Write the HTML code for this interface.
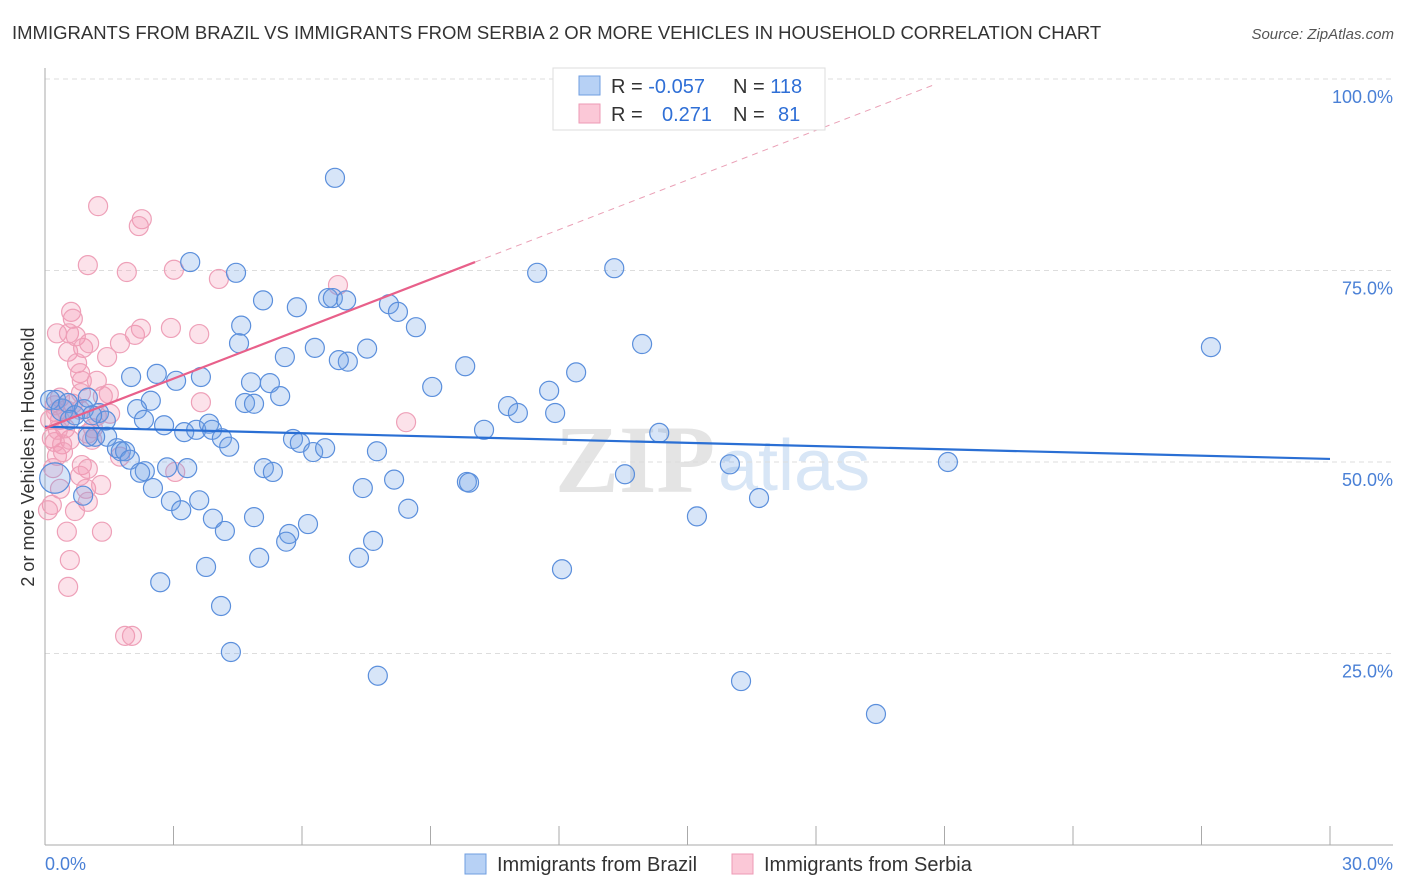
<!DOCTYPE html>
<html><head><meta charset="utf-8"><style>
body{margin:0;background:#fff;font-family:"Liberation Sans",sans-serif;}
svg{display:block}
</style></head><body>
<svg id="chart" width="1406" height="892" xmlns="http://www.w3.org/2000/svg">
<text x="12" y="39" font-size="18.5" fill="#333">IMMIGRANTS FROM BRAZIL VS IMMIGRANTS FROM SERBIA 2 OR MORE VEHICLES IN HOUSEHOLD CORRELATION CHART</text>
<text x="1394" y="39" font-size="15" fill="#555" font-style="italic" text-anchor="end">Source: ZipAtlas.com</text>
<text transform="translate(34,457) rotate(-90)" font-size="18" fill="#333" text-anchor="middle">2 or more Vehicles in Household</text>
<text x="555" y="492" font-size="96" font-family="Liberation Serif,serif" font-weight="bold" fill="#e4e4e4">ZIP</text>
<text x="718" y="490" font-size="72" fill="#d8e6f6">atlas</text>
<g id="grid"></g><g id="axes"></g><g id="pts"></g><g id="trend"></g>
<g>
<rect x="553" y="68" width="272" height="62" fill="#fff" stroke="#ddd"/>
<rect x="579" y="76" width="21" height="19" fill="#b7d1f5" stroke="#6f9ee0"/>
<rect x="579" y="104" width="21" height="19" fill="#fbc8d7" stroke="#ee9ab4"/>
<text x="611" y="93" font-size="20" fill="#333">R = <tspan fill="#2f6fd6">-0.057</tspan></text>
<text x="733" y="93" font-size="20" fill="#333">N = <tspan fill="#2f6fd6">118</tspan></text>
<text x="611" y="121" font-size="20" fill="#333">R = <tspan fill="#2f6fd6" x="662">0.271</tspan></text>
<text x="733" y="121" font-size="20" fill="#333">N = <tspan fill="#2f6fd6" x="778">81</tspan></text>
</g>
<g>
<rect x="465" y="854" width="21" height="20" fill="#b7d1f5" stroke="#6f9ee0"/>
<text x="497" y="871" font-size="20" fill="#333">Immigrants from Brazil</text>
<rect x="732" y="854" width="21" height="20" fill="#fbc8d7" stroke="#ee9ab4"/>
<text x="764" y="871" font-size="20" fill="#333">Immigrants from Serbia</text>
</g>
</svg>
<script>
const yTicks=[25,50,75,100];
const yTickLabels=["25.0%","50.0%","75.0%","100.0%"];
const xTicks=[0,3,6,9,12,15,18,21,24,27,30];
const xEndLabels=["0.0%","30.0%"];
const brazilX=[6.77,3.39,4.46,11.49,13.29,5.09,5.88,6.61,6.72,7.03,8.03,8.24,8.66,4.58,4.53,5.60,6.30,7.52,7.07,6.86,13.94,27.22,9.81,9.04,12.40,11.77,2.01,2.61,3.06,3.64,4.81,5.25,5.49,4.67,4.88,2.47,2.15,2.31,2.78,3.25,3.53,3.83,3.90,4.13,4.30,10.81,11.04,11.91,10.25,14.34,5.79,5.95,6.26,6.54,7.75,1.26,1.42,1.45,1.17,1.00,1.68,1.77,1.87,1.98,2.33,2.22,2.85,3.32,5.11,5.32,8.15,7.42,9.85,9.90,13.54,15.99,21.08,2.52,0.89,2.94,3.18,3.60,3.92,4.20,4.88,6.14,5.70,5.63,7.66,7.33,8.48,5.00,3.76,2.69,4.11,4.34,7.77,12.07,15.22,16.67,16.25,19.40,0.26,0.12,0.23,0.40,0.54,0.70,0.58,0.91,1.00,1.10];
const brazilY=[87.1,76.1,74.7,74.7,75.3,71.1,70.2,71.4,71.4,71.1,70.6,69.6,67.6,67.8,65.5,63.7,64.9,64.8,63.1,63.3,65.4,65.0,62.5,59.8,61.7,59.3,61.1,61.5,60.6,61.1,60.4,60.3,58.6,57.7,57.6,58.0,56.9,55.5,54.8,53.9,54.2,55.0,54.2,53.1,52.0,57.3,56.4,56.4,54.2,53.8,53.0,52.5,51.3,51.8,51.4,56.4,55.4,53.3,53.3,53.3,51.8,51.4,51.4,50.3,48.8,48.6,49.3,49.2,49.2,48.7,47.7,46.6,47.4,47.3,48.4,49.7,50.0,46.6,45.6,44.9,43.7,45.0,42.6,41.0,42.8,41.9,40.6,39.6,39.7,37.5,43.9,37.5,36.3,34.3,31.2,25.2,22.1,36.0,42.9,45.3,21.4,17.1,58.1,58.1,47.9,56.8,57.7,56.1,55.5,56.9,58.4,56.1];
const brazilSize=[];
const serbiaX=[1.24,2.26,2.19,1.00,1.91,3.01,4.06,6.84,0.61,0.65,0.28,0.56,0.72,0.89,1.03,1.75,2.10,2.24,2.94,3.60,1.45,0.54,0.75,0.82,0.86,1.21,0.84,0.65,1.35,1.49,3.64,8.43,0.26,0.35,0.47,0.16,0.40,0.58,1.00,1.12,1.21,1.52,0.28,0.42,0.19,0.86,1.00,0.82,0.96,1.31,3.04,1.75,0.35,1.00,0.16,0.70,0.51,1.33,0.58,0.54,1.87,2.03,0.12,0.23,0.35,0.82,0.23,0.07,0.49,1.10,0.30];
const serbiaY=[83.4,81.7,80.8,75.7,74.8,75.1,73.9,73.1,69.6,68.7,66.8,66.8,66.4,64.9,65.5,65.5,66.6,67.4,67.5,66.7,63.7,64.4,62.9,61.6,60.6,60.6,59.0,57.6,58.6,58.9,57.8,55.2,56.5,55.5,54.4,53.1,52.3,52.9,53.7,54.4,56.0,56.3,50.8,51.3,49.2,49.6,49.1,48.2,46.5,47.0,48.7,50.7,46.5,44.8,44.4,43.6,40.9,40.9,37.2,33.7,27.3,27.3,55.5,57.4,58.4,56.8,52.6,43.7,56.8,52.9,54.2];
const brazilTrend=[54.6,50.4];
const serbiaTrend=[54.4,76.1,99.3];
const serbiaTrendX=[0,10.04,20.78];
brazilSize[104]=1.6; brazilSize[105]=1.15;

const X0=45,X1=1330,Y0=845,Y1=79;
const sx=v=>X0+(v/30)*(X1-X0);
const sy=v=>Y0-(v/100)*(Y0-Y1);
const NS="http://www.w3.org/2000/svg";
function mk(parent,tag,attrs){const e=document.createElementNS(NS,tag);for(const k in attrs)e.setAttribute(k,attrs[k]);document.getElementById(parent).appendChild(e);return e;}

yTicks.forEach((t,i)=>{
  const g=mk('grid','line',{x1:X0,x2:1393,y1:sy(t),y2:sy(t),stroke:'#ddd','stroke-dasharray':'5,4'});
  
  
  const l=mk('grid','text',{x:1393,y:sy(t)+24,'font-size':18,fill:'#4a80d6','text-anchor':'end'});
  l.textContent=yTickLabels[i];
  
  
});
let a=mk('axes','line',{x1:X0,x2:X0,y1:68,y2:Y0,stroke:'#aaa'});


a=mk('axes','line',{x1:X0,x2:1393,y1:Y0,y2:Y0,stroke:'#aaa'});


xTicks.forEach(t=>{
  const k=mk('axes','line',{x1:sx(t),x2:sx(t),y1:826,y2:Y0,stroke:'#aaa'});
  
  
});
let xl=mk('axes','text',{x:X0,y:870,'font-size':18,fill:'#4a80d6'});xl.textContent=xEndLabels[0];


xl=mk('axes','text',{x:1393,y:870,'font-size':18,fill:'#4a80d6','text-anchor':'end'});xl.textContent=xEndLabels[1];



serbiaX.forEach((v,i)=>{
  const c=mk('pts','circle',{cx:sx(v),cy:sy(serbiaY[i]),r:9.5,fill:'rgba(244,150,180,0.28)',stroke:'#eea0b8','stroke-width':1.2});
  
  
});
brazilX.forEach((v,i)=>{
  const c=mk('pts','circle',{cx:sx(v),cy:sy(brazilY[i]),r:9.5*(brazilSize[i]||1),fill:'rgba(110,160,230,0.28)',stroke:'#5b8fdc','stroke-width':1.2});
  
  
});
let t=mk('trend','line',{x1:sx(0),y1:sy(brazilTrend[0]),x2:sx(30),y2:sy(brazilTrend[1]),stroke:'#2a6fd4','stroke-width':2.2});


t=mk('trend','line',{x1:sx(serbiaTrendX[0]),y1:sy(serbiaTrend[0]),x2:sx(serbiaTrendX[1]),y2:sy(serbiaTrend[1]),stroke:'#e8608a','stroke-width':2.2});


t=mk('trend','line',{x1:sx(serbiaTrendX[1]),y1:sy(serbiaTrend[1]),x2:sx(serbiaTrendX[2]),y2:sy(serbiaTrend[2]),stroke:'#eaa0b6','stroke-width':1,'stroke-dasharray':'6,5'});


</script>
</body></html>
